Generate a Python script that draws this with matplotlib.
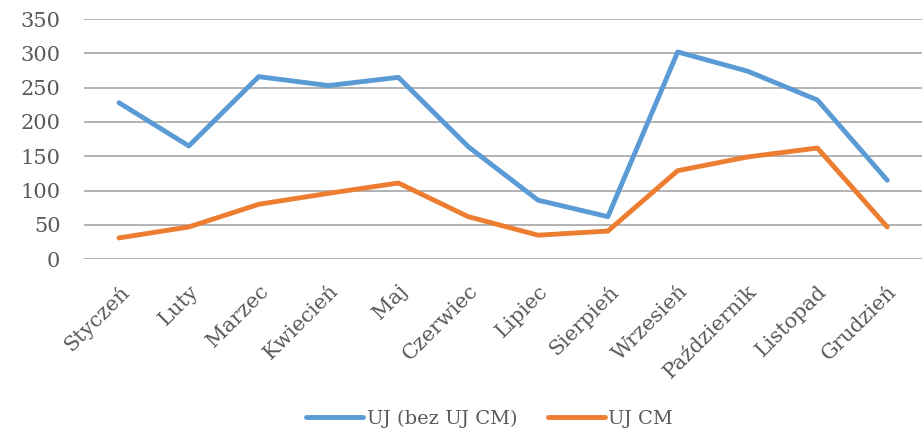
import numpy as np
import matplotlib
matplotlib.use("Agg")
import matplotlib.pyplot as plt

months = ["Styczeń", "Luty", "Marzec", "Kwiecień", "Maj", "Czerwiec",
          "Lipiec", "Sierpień", "Wrzesień", "Październik", "Listopad", "Grudzień"]
uj_bez_cm = [228, 165, 266, 253, 265, 164, 86, 62, 302, 274, 232, 115]
uj_cm = [31, 47, 80, 96, 111, 62, 35, 41, 129, 149, 162, 47]

plt.rcParams['font.family'] = ['DejaVu Serif']
text_color = "#595959"


def main():
    fig = plt.figure(figsize=(9.24, 4.32), dpi=100)
    ax = fig.add_axes([0.091, 0.40, 0.907, 0.556])

    x = np.arange(len(months))
    ax.plot(x, uj_bez_cm, color="#5B9BD5", lw=3.5, label="UJ (bez UJ CM)",
            solid_joinstyle="round", solid_capstyle="round")
    ax.plot(x, uj_cm, color="#ED7D31", lw=3.5, label="UJ CM",
            solid_joinstyle="round", solid_capstyle="round")

    ax.set_xlim(-0.5, len(months) - 0.5)
    ax.set_ylim(0, 350)
    ax.set_yticks(np.arange(0, 351, 50))
    ax.grid(axis="y", color="#a6a6a6", lw=1.2)
    ax.set_axisbelow(True)
    for s in ax.spines.values():
        s.set_visible(False)
    ax.tick_params(length=0, colors=text_color, labelsize=15)
    ax.tick_params(axis="y", pad=17)
    ax.tick_params(axis="x", pad=16)

    ax.set_xticks(x)
    ax.set_xticklabels(months, rotation=45, ha="right", va="top",
                       rotation_mode="anchor")

    fig.legend(loc="center", bbox_to_anchor=(0.53, 0.03), ncol=2,
               frameon=False, fontsize=14, labelcolor=text_color,
               handlelength=2.9, columnspacing=1.6, handletextpad=0.2)

    fig.savefig("out.png", dpi=100)


if __name__ == "__main__":
    main()
